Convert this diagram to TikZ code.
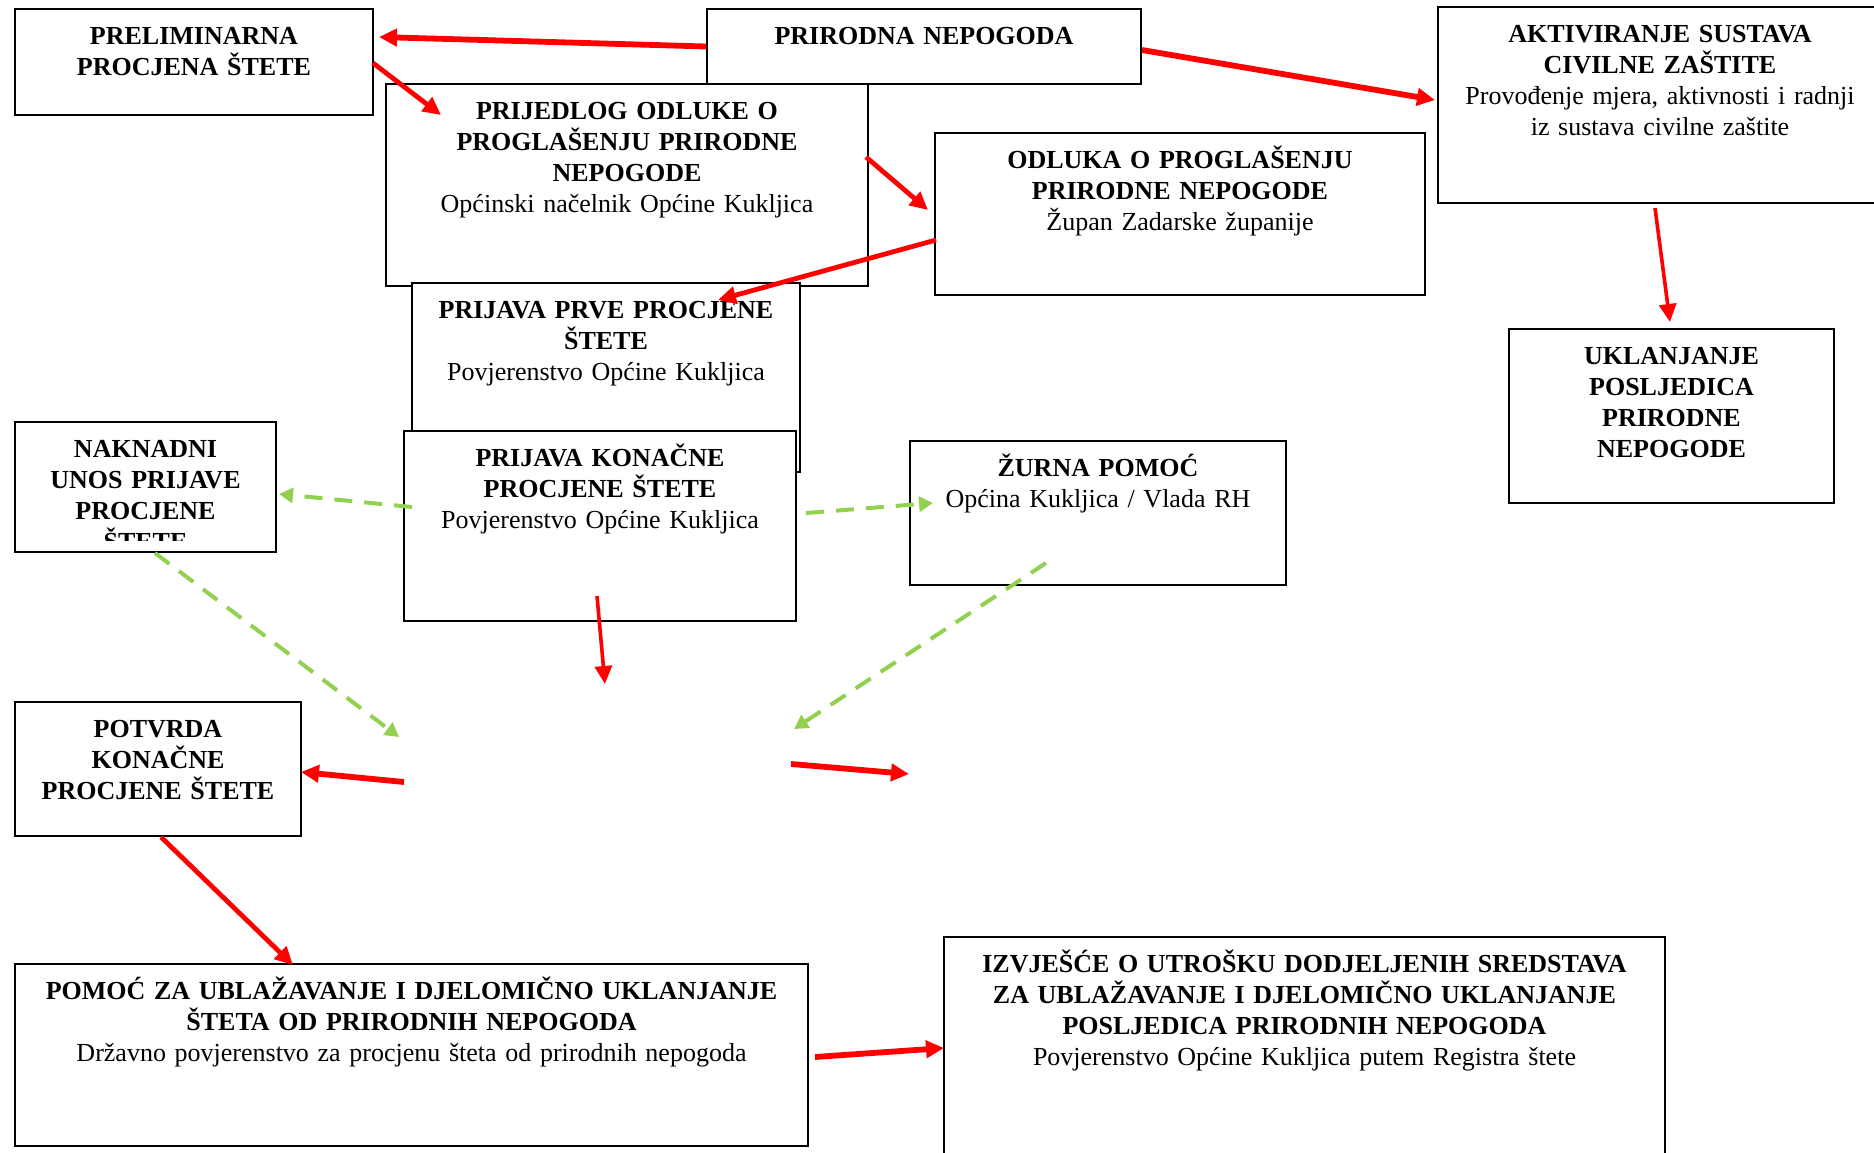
\documentclass[tikz,border=0pt]{standalone}
\usepackage{fontspec}
\setmainfont{Liberation Serif}
\usetikzlibrary{arrows.meta,fit}
\definecolor{arrred}{RGB}{255,0,0}
\definecolor{arrgreen}{RGB}{146,208,80}
\begin{document}
\begin{tikzpicture}[x=0.5pt,y=-0.5pt,
  box/.style={draw=black, fill=white, line width=0.7pt, inner sep=0pt},
  txt/.style={anchor=base, align=center, text width=480pt, inner sep=0pt,
              font=\fontsize{13}{15.6}\selectfont},
  redarr/.style={draw=arrred, line width=2.4pt, -{Triangle[length=9pt,width=8.5pt]}},
  redthick/.style={redarr, line width=2.9pt},
  redthin/.style={redarr, line width=1.8pt},
  greenarr/.style={draw=arrgreen, line width=2pt, dash pattern=on 9pt off 6pt,
                   -{Triangle[length=7pt,width=7.5pt]}}
]
\useasboundingbox (0,0) rectangle (1874,1152);
\fill[white] (0,0) rectangle (1874,1152);

% boxes
\node[box, fit={(15,9) (373,115)}] (prelim) {};
\node[txt] (prelim-t) at ([yshift=-18pt]prelim.north) {\bfseries PRELIMINARNA\\PROCJENA ŠTETE};

\node[box, fit={(707,9) (1141,84)}] (prirodna) {};
\node[txt] (prirodna-t) at ([yshift=-18pt]prirodna.north) {\bfseries PRIRODNA NEPOGODA};

\node[box, fit={(1438,7) (1890,203)}] (aktiv) {};
\node[txt] (aktiv-t) at ([yshift=-18pt]aktiv.north -| 1660,0) {\bfseries AKTIVIRANJE SUSTAVA\\CIVILNE ZAŠTITE\\\mdseries Provođenje mjera, aktivnosti i radnji\\iz sustava civilne zaštite};

\node[box, fit={(386,84) (868,286)}] (prijedlog) {};
\node[txt] (prijedlog-t) at ([yshift=-18pt]prijedlog.north) {\bfseries PRIJEDLOG ODLUKE O\\PROGLAŠENJU PRIRODNE\\NEPOGODE\\\mdseries Općinski načelnik Općine Kukljica};

\node[box, fit={(935,133) (1425,295)}] (odluka) {};
\node[txt] (odluka-t) at ([yshift=-18pt]odluka.north) {\bfseries ODLUKA O PROGLAŠENJU\\PRIRODNE NEPOGODE\\\mdseries Župan Zadarske županije};

\node[box, fit={(412,283) (800,472)}] (prve) {};
\node[txt] (prve-t) at ([yshift=-18pt]prve.north) {\bfseries PRIJAVA PRVE PROCJENE\\ŠTETE\\\mdseries Povjerenstvo Općine Kukljica};

\node[box, fit={(404,431) (796,621)}] (konacne) {};
\node[txt] (konacne-t) at ([yshift=-18pt]konacne.north) {\bfseries PRIJAVA KONAČNE\\PROCJENE ŠTETE\\\mdseries Povjerenstvo Općine Kukljica};

\node[box, fit={(15,422) (276,552)}] (naknadni) {};
\begin{scope}
  \clip (15,422) rectangle (276,540);
  \node[txt] (naknadni-t) at ([yshift=-18pt]naknadni.north) {\bfseries NAKNADNI\\UNOS PRIJAVE\\PROCJENE\\ŠTETE};
\end{scope}

\node[box, fit={(910,441) (1286,585)}] (zurna) {};
\node[txt] (zurna-t) at ([yshift=-18pt]zurna.north) {\bfseries ŽURNA POMOĆ\\\mdseries Općina Kukljica / Vlada RH};

\node[box, fit={(1509,329) (1834,503)}] (uklan) {};
\node[txt] (uklan-t) at ([yshift=-18pt]uklan.north) {\bfseries UKLANJANJE\\POSLJEDICA\\PRIRODNE\\NEPOGODE};

\node[box, fit={(15,702) (301,836)}] (potvrda) {};
\node[txt] (potvrda-t) at ([yshift=-18pt]potvrda.north) {\bfseries POTVRDA\\KONAČNE\\PROCJENE ŠTETE};

\node[box, fit={(15,964) (808,1146)}] (pomoc) {};
\node[txt] (pomoc-t) at ([yshift=-18pt]pomoc.north) {\bfseries POMOĆ ZA UBLAŽAVANJE I DJELOMIČNO UKLANJANJE\\ŠTETA OD PRIRODNIH NEPOGODA\\\mdseries Državno povjerenstvo za procjenu šteta od prirodnih nepogoda};

\node[box, fit={(944,937) (1665,1175)}] (izv) {};
\node[txt] (izv-t) at ([yshift=-18pt]izv.north) {\bfseries IZVJEŠĆE O UTROŠKU DODJELJENIH SREDSTAVA\\ZA UBLAŽAVANJE I DJELOMIČNO UKLANJANJE\\POSLJEDICA PRIRODNIH NEPOGODA\\\mdseries Povjerenstvo Općine Kukljica putem Registra štete};

% free connector ends
\coordinate (e1) at (379,37);
\coordinate (s2) at (373,63);   \coordinate (e2) at (441,115);
\coordinate (s3) at (1142,50);  \coordinate (e3) at (1435,100);
\coordinate (s4) at (866,157);  \coordinate (e4) at (928,210);
\coordinate (s5) at (936,240);  \coordinate (e5) at (718,300);
\coordinate (s6) at (1655,208); \coordinate (e6) at (1670,322);
\coordinate (s7) at (597,596);  \coordinate (e7) at (605,684);
\coordinate (s8) at (412,507);  \coordinate (e8) at (279,494);
\coordinate (s9) at (806,513);  \coordinate (e9) at (933,503);
\coordinate (s10) at (155,553); \coordinate (e10) at (399,737);
\coordinate (s11) at (1046,563);\coordinate (e11) at (794,729);
\coordinate (s12) at (404,782); \coordinate (e12) at (301,772);
\coordinate (s13) at (791,764); \coordinate (e13) at (909,774);
\coordinate (s14) at (161,837); \coordinate (e14) at (293,965);
\coordinate (s15) at (815,1057);\coordinate (e15) at (944,1048);

% connectors
\draw[redthick] (prirodna.west) -- (e1);
\draw[redarr] (s2) -- (e2);
\draw[redthick] (s3) -- (e3);
\draw[redarr] (s4) -- (e4);
\draw[redarr] (s5) -- (e5);
\draw[redthin] (s6) -- (e6);
\draw[redthin] (s7) -- (e7);
\draw[greenarr] (s8) -- (e8);
\draw[greenarr] (s9) -- (e9);
\draw[greenarr] (s10) -- (e10);
\draw[greenarr] (s11) -- (e11);
\draw[redthick] (s12) -- (e12);
\draw[redthick] (s13) -- (e13);
\draw[redarr] (s14) -- (e14);
\draw[redthick] (s15) -- (e15);
\end{tikzpicture}
\end{document}
